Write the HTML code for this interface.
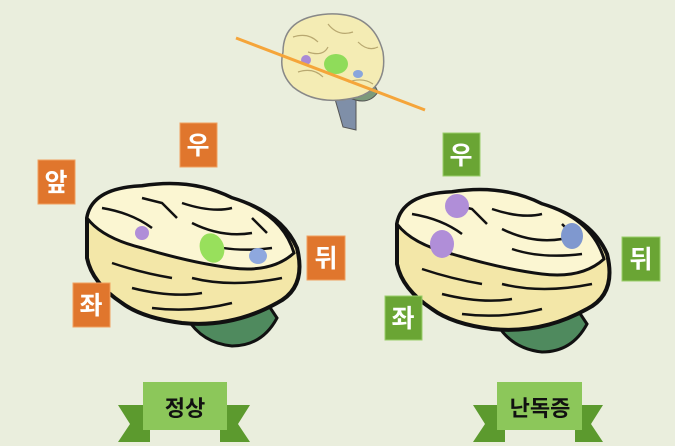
<!DOCTYPE html>
<html><head><meta charset="utf-8"><style>
html,body{margin:0;padding:0;background:#eaeedd;}
svg{display:block}
text{font-family:"Liberation Sans","Noto Sans CJK KR","NanumGothic",sans-serif;font-weight:bold}
</style></head><body>
<svg width="675" height="446" viewBox="0 0 675 446" xmlns="http://www.w3.org/2000/svg">
<rect width="675" height="446" fill="#eaeedd"/>
<defs>
<g id="brain">
  <path d="M105 140 Q120 165 150 168 Q180 168 195 140 L185 125 Q150 140 110 135 Z" fill="#4f8a5e" stroke="#111" stroke-width="3"/>
  <path d="M5 40 Q10 10 60 8 Q110 0 150 20 Q200 35 215 70 Q225 110 195 125 Q150 150 100 145 Q60 140 40 125 Q10 105 5 80 Z" fill="#f3e7a8" stroke="#111" stroke-width="4"/>
  <path d="M5 40 Q10 10 60 8 Q110 0 150 20 Q200 35 212 75 Q190 95 150 90 Q110 85 60 70 Q20 60 5 40 Z" fill="#fbf6d2" stroke="#111" stroke-width="3"/>
  <g fill="none" stroke="#111" stroke-width="2.5">
    <path d="M20 30 Q50 35 70 50 M60 20 L80 25 L95 40 M100 25 Q130 35 150 30 M110 45 Q140 60 170 55 M120 65 Q150 75 190 70 M30 85 Q60 95 90 100 M50 110 Q90 120 120 115 M110 100 Q150 110 200 100 M70 130 Q110 135 150 125 M170 40 L185 55"/>
  </g>
</g>
</defs>
<!-- top brain -->
<g transform="translate(278,12)">
  <path d="M55 80 L65 115 L78 118 L78 80 Z" fill="#7f8fa8" stroke="#555"/>
  <path d="M70 85 Q90 95 100 80 L95 70 Z" fill="#7c9a7a" stroke="#555"/>
  <path d="M5 40 Q5 5 50 2 Q95 0 105 40 Q110 75 80 85 Q40 95 15 75 Q0 60 5 40 Z" fill="#f4ecb4" stroke="#888" stroke-width="1.5"/>
  <g fill="none" stroke="#b8a870" stroke-width="1.2">
    <path d="M15 25 Q30 20 40 30 M50 12 Q60 25 75 20 M80 30 Q90 40 100 35 M20 60 Q35 55 45 65 M70 70 Q85 65 95 72 M30 40 Q45 45 50 35"/>
  </g>
  <ellipse cx="58" cy="52" rx="12" ry="10" fill="#8fdc5a"/>
  <ellipse cx="28" cy="48" rx="5" ry="5" fill="#a98ad6"/>
  <ellipse cx="80" cy="62" rx="5" ry="4" fill="#8aa6dc"/>
</g>
<line x1="236" y1="38" x2="425" y2="110" stroke="#f5a53a" stroke-width="3"/>
<!-- left brain -->
<g transform="translate(82,178)">
  <use href="#brain"/>
  <ellipse cx="60" cy="55" rx="7" ry="7" fill="#b08ed8"/>
  <ellipse cx="130" cy="70" rx="12" ry="15" transform="rotate(-20 130 70)" fill="#98e05c"/>
  <ellipse cx="176" cy="78" rx="9" ry="8" fill="#8ea8de"/>
</g>
<!-- right brain -->
<g transform="translate(392,184)">
  <use href="#brain"/>
  <ellipse cx="65" cy="22" rx="12" ry="12" fill="#b08ed8"/>
  <ellipse cx="50" cy="60" rx="12" ry="14" fill="#b08ed8"/>
  <ellipse cx="180" cy="52" rx="11" ry="13" fill="#7f98cf"/>
</g>
<!-- labels -->
<g fill="#e0762d" stroke="#f0a060" stroke-width="1">
  <rect x="180" y="123" width="37" height="44"/>
  <rect x="38" y="160" width="37" height="44"/>
  <rect x="307" y="236" width="38" height="44"/>
  <rect x="73" y="283" width="37" height="44"/>
</g>
<g fill="#6aa534" stroke="#9bcf6a" stroke-width="1">
  <rect x="443" y="133" width="37" height="43"/>
  <rect x="622" y="237" width="38" height="44"/>
  <rect x="385" y="296" width="37" height="44"/>
</g>
<g fill="#fff" font-size="25" text-anchor="middle">
  <text x="198" y="154">우</text>
  <text x="56" y="191">앞</text>
  <text x="326" y="267">뒤</text>
  <text x="91" y="314">좌</text>
  <text x="461" y="164">우</text>
  <text x="641" y="268">뒤</text>
  <text x="403" y="327">좌</text>
</g>
<!-- ribbons -->
<g>
  <path d="M118 405 L150 405 L150 442 L118 442 L130 424 Z" fill="#5c9a2e"/>
  <path d="M250 405 L220 405 L220 442 L250 442 L238 424 Z" fill="#5c9a2e"/>
  <rect x="143" y="382" width="84" height="48" fill="#8cc75a"/>
  <text x="185" y="416" font-size="22" fill="#111" text-anchor="middle">정상</text>
  <path d="M473 405 L505 405 L505 442 L473 442 L485 424 Z" fill="#5c9a2e"/>
  <path d="M603 405 L575 405 L575 442 L603 442 L591 424 Z" fill="#5c9a2e"/>
  <rect x="497" y="382" width="85" height="48" fill="#8cc75a"/>
  <text x="540" y="416" font-size="22" fill="#111" text-anchor="middle">난독증</text>
</g>
</svg>
</body></html>
